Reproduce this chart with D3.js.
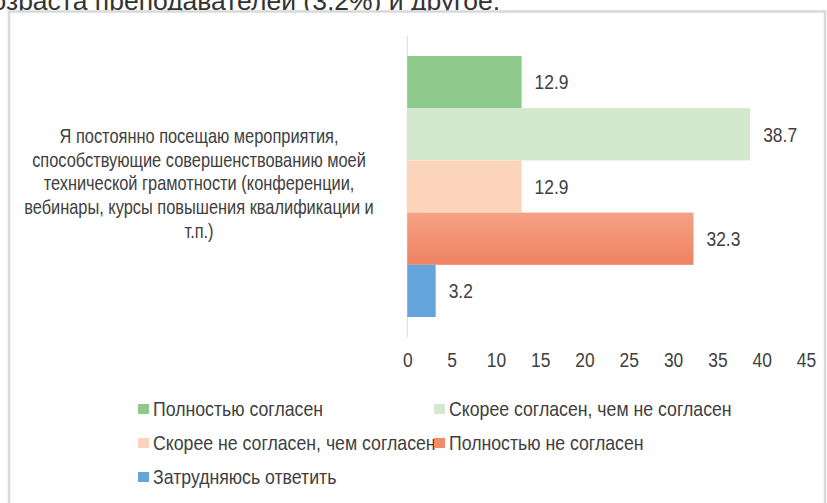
<!DOCTYPE html>
<html>
<head>
<meta charset="utf-8">
<script src="https://cdn.jsdelivr.net/npm/d3@7"></script>
<style>
  html, body { margin: 0; padding: 0; background: #fff; }
  svg { display: block; }
</style>
</head>
<body>
<svg id="chart" width="827" height="503"></svg>
<script>
// Survey item and response shares (%)
const categories = ["Я постоянно посещаю мероприятия, способствующие совершенствованию моей технической грамотности (конференции, вебинары, курсы повышения квалификации и т.п.)"];
const categoryLines = [
  "Я постоянно посещаю мероприятия,",
  "способствующие совершенствованию моей",
  "технической грамотности (конференции,",
  "вебинары, курсы повышения квалификации и",
  "т.п.)"
];
const seriesNames = [
  "Полностью согласен",
  "Скорее согласен, чем не согласен",
  "Скорее не согласен, чем согласен",
  "Полностью не согласен",
  "Затрудняюсь ответить"
];
const seriesValues = [12.9, 38.7, 12.9, 32.3, 3.2];
const seriesColors = ["#8cc98b", "#d3e8cc", "#fcd4bb", "url(#salmonGrad)", "#64a6dc"];
const legendColors = ["#8cc98b", "#d3e8cc", "#fcd4bb", "#f28b6c", "#64a6dc"];
const xTicks = [0, 5, 10, 15, 20, 25, 30, 35, 40, 45];
const headerText = "возраста преподавателей (3,2%) и другое.";

// Condensed look: regular sans squeezed horizontally
const sans = "'Liberation Sans', Arial, sans-serif";
const svg = d3.select("#chart");

svg.append("rect").attr("width", 827).attr("height", 503).attr("fill", "#fff");

const defs = svg.append("defs");
const grad = defs.append("linearGradient").attr("id", "salmonGrad")
  .attr("x1", 0).attr("y1", 0).attr("x2", 0).attr("y2", 1);
grad.append("stop").attr("offset", "0%").attr("stop-color", "#f5a185");
grad.append("stop").attr("offset", "100%").attr("stop-color", "#ef8261");

// Running text line above the chart frame
svg.append("text")
  .attr("x", 500).attr("y", 10)
  .attr("text-anchor", "end")
  .attr("font-family", sans)
  .attr("font-size", 26.5)
  .attr("fill", "#333")
  .text(headerText);

// Chart frame
svg.append("rect")
  .attr("x", 9).attr("y", 11.5)
  .attr("width", 816).attr("height", 500)
  .attr("fill", "#fff")
  .attr("stroke", "#d9d9d9").attr("stroke-width", 2.5);

// Scales
const x = d3.scaleLinear().domain([0, 45]).range([407.3, 806]);
const y0 = d3.scaleBand().domain(categories).range([36, 337]).paddingInner(0).paddingOuter(0.0766);
const y1 = d3.scaleBand().domain(seriesNames).range([0, y0.bandwidth()]).padding(0);

// Vertical axis line
svg.append("line")
  .attr("x1", x(0)).attr("x2", x(0))
  .attr("y1", 36).attr("y2", 337)
  .attr("stroke", "#d9d9d9").attr("stroke-width", 1);

// Bottom tick labels
const xAxis = d3.axisBottom(x).tickValues(xTicks).tickSize(0).tickPadding(0).tickFormat(d3.format("d"));
const gx = svg.append("g").attr("transform", "translate(0,360)").call(xAxis);
gx.select(".domain").remove();
gx.selectAll("text")
  .attr("y", 0)
  .attr("dy", "0.35em")
  .attr("transform", "scale(0.83,1)")
  .attr("font-family", sans)
  .attr("font-size", 21)
  .attr("fill", "#404040");

// Bars
const rows = seriesNames.map((s, i) => ({ name: s, value: seriesValues[i], color: seriesColors[i] }));
const g = svg.append("g").attr("transform", `translate(0,${y0(categories[0])})`);
g.selectAll("rect.bar").data(rows).join("rect")
  .attr("class", "bar")
  .attr("x", x(0))
  .attr("y", d => y1(d.name))
  .attr("width", d => x(d.value) - x(0))
  .attr("height", y1.bandwidth())
  .attr("fill", d => d.color);

// Value labels
g.selectAll("text.val").data(rows).join("text")
  .attr("class", "val")
  .attr("transform", d => `translate(${x(d.value) + 13},${y1(d.name) + y1.bandwidth() / 2}) scale(0.83,1)`)
  .attr("dy", "0.35em")
  .attr("font-family", sans)
  .attr("font-size", 21)
  .attr("fill", "#404040")
  .text(d => d.value.toFixed(1));

// Category label
const cat = svg.append("text")
  .attr("transform", "translate(199,0) scale(0.82,1)")
  .attr("text-anchor", "middle")
  .attr("font-family", sans)
  .attr("font-size", 20)
  .attr("fill", "#404040");
categoryLines.forEach((line, i) => {
  cat.append("tspan").attr("x", 0).attr("y", 136 + i * 23.7).attr("dy", "0.35em").text(line);
});

// Legend
const legendPos = [
  { x: 138, y: 409 }, { x: 434, y: 409 },
  { x: 138, y: 443 }, { x: 434, y: 443 },
  { x: 138, y: 477 }
];
const lg = svg.append("g");
seriesNames.forEach((s, i) => {
  const p = legendPos[i];
  lg.append("rect").attr("x", p.x).attr("y", p.y - 5).attr("width", 11).attr("height", 10).attr("fill", legendColors[i]);
  lg.append("text")
    .attr("transform", `translate(${p.x + 15},${p.y}) scale(0.885,1)`)
    .attr("dy", "0.35em")
    .attr("font-family", sans).attr("font-size", 20).attr("fill", "#404040").text(s);
});
</script>
</body>
</html>
